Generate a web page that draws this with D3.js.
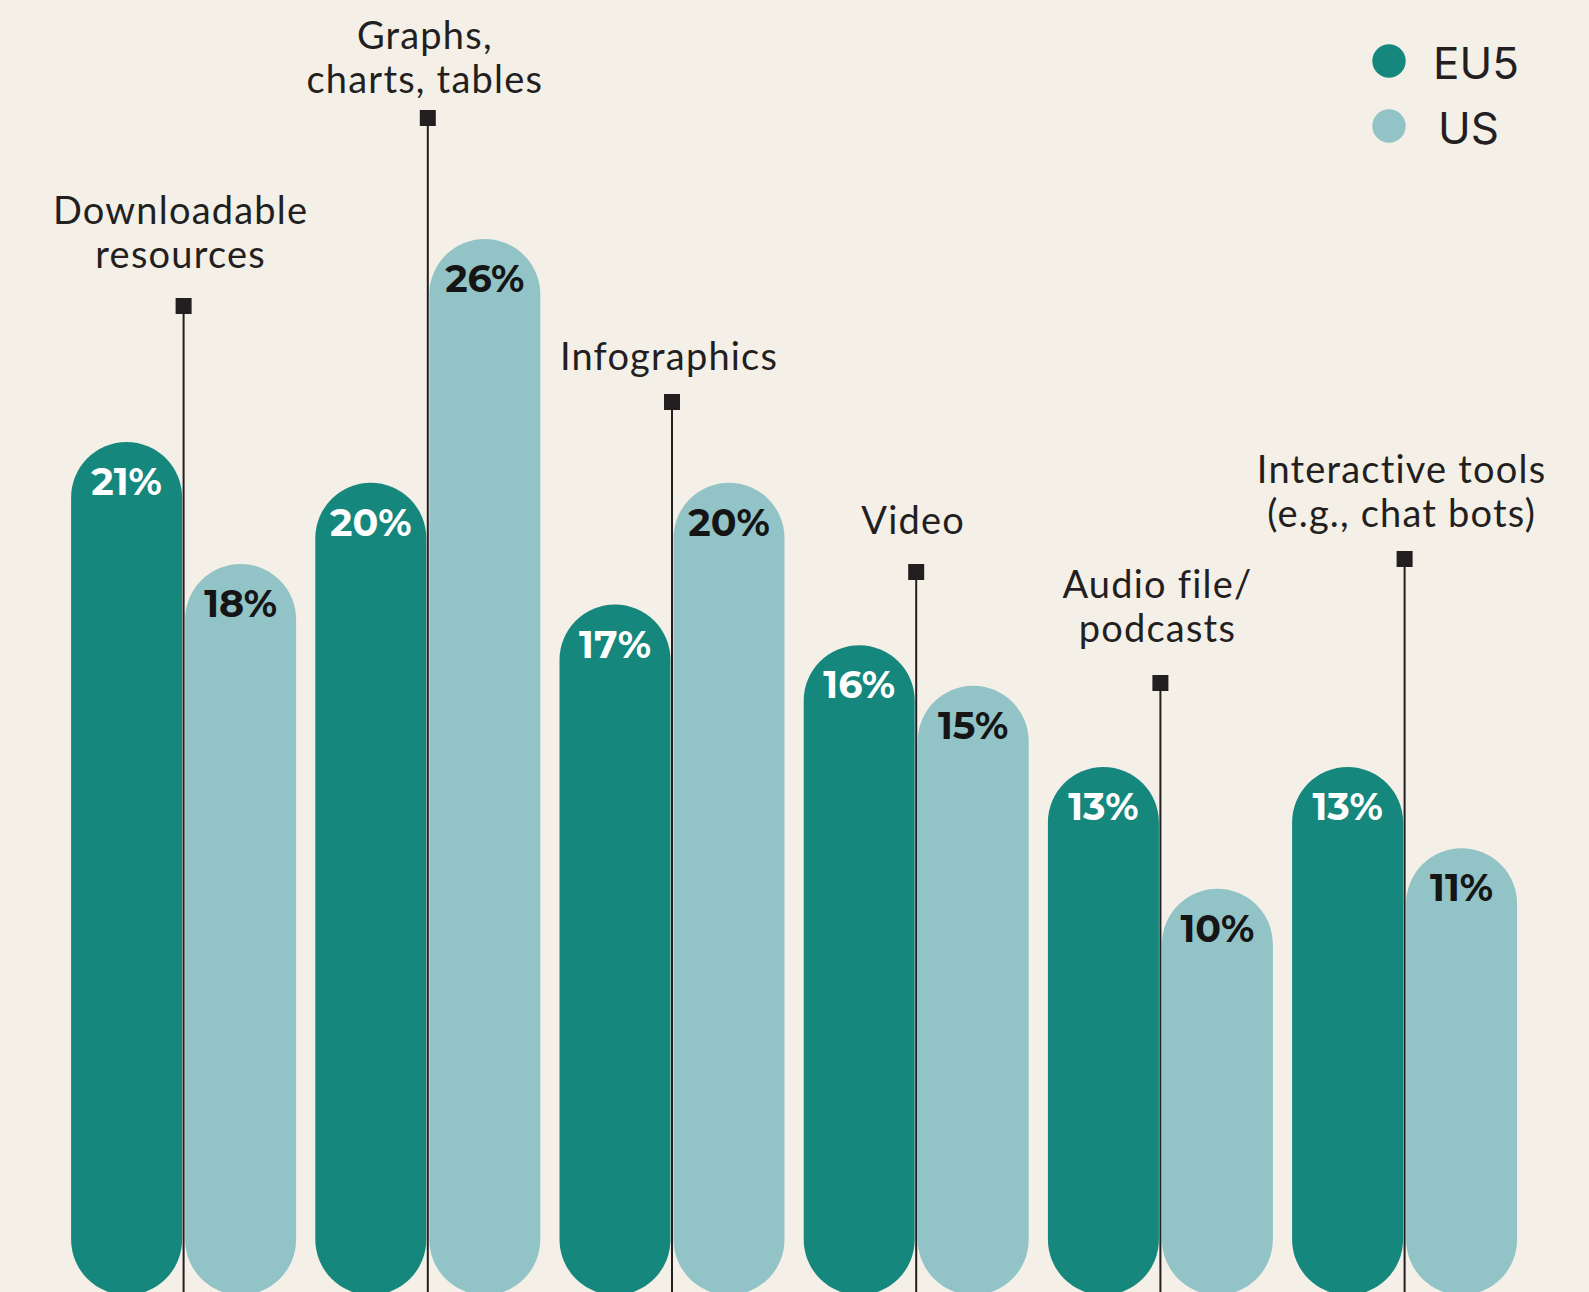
<!DOCTYPE html>
<html>
<head>
<meta charset="utf-8">
<script src="https://cdn.jsdelivr.net/npm/d3@7"></script>
<style>
  html, body { margin: 0; padding: 0; background: #f4f0e8; }
  svg { display: block; }
</style>
</head>
<body>
<svg id="chart" width="1589" height="1292"></svg>
<script>
// Share of respondents preferring each content format
const categories = [
  "Downloadable\nresources",
  "Graphs,\ncharts, tables",
  "Infographics",
  "Video",
  "Audio file/\npodcasts",
  "Interactive tools\n(e.g., chat bots)"
];
const seriesNames = ["EU5", "US"];
const eu5Values = [21, 20, 17, 16, 13, 13];
const usValues  = [18, 26, 20, 15, 10, 11];

// Layout: top of each category's marker stem and baseline of its last label line
const stemTop = [306, 118, 402, 572, 683, 559];
const labelBaseline = [268, 93, 370, 534, 642, 527];

const colors = { EU5: "#16877d", US: "#92c3c6" };
const ink = "#231f20";

const W = 1589, H = 1292;
const svg = d3.select("#chart");
svg.append("rect").attr("width", W).attr("height", H).attr("fill", "#f4f0e8");

const x = d3.scalePoint().domain(categories).range([183.6, 1404.6]);
const xSub = d3.scaleBand().domain(seriesNames).range([-112.5, 112.5]).paddingInner(3 / 114);
const y = d3.scaleLinear().domain([0, 26]).range([1295, 239]);

const rows = categories.map((c, i) => ({
  cat: c,
  values: [
    { key: "EU5", value: eu5Values[i] },
    { key: "US", value: usValues[i] }
  ]
}));

const bw = xSub.bandwidth();

const groups = svg.selectAll("g.cat").data(rows).join("g")
  .attr("class", "cat")
  .attr("transform", d => `translate(${x(d.cat)},0)`);

// Pill-shaped bars
groups.selectAll("rect.bar").data(d => d.values).join("rect")
  .attr("class", "bar")
  .attr("x", d => xSub(d.key))
  .attr("y", d => y(d.value))
  .attr("width", bw)
  .attr("height", d => y(0) - y(d.value))
  .attr("rx", bw / 2)
  .attr("fill", d => colors[d.key]);

// Value labels
groups.selectAll("text.val").data(d => d.values).join("text")
  .attr("class", "val")
  .attr("x", d => xSub(d.key) + bw / 2)
  .attr("y", d => y(d.value) + 53)
  .attr("text-anchor", "middle")
  .attr("font-family", "Montserrat, Inter, 'Noto Sans', sans-serif")
  .attr("font-weight", 700)
  .attr("font-size", 38)
  .attr("fill", d => d.key === "EU5" ? "#ffffff" : "#151515")
  .text(d => d.value + "%");

// Marker stems
groups.append("line")
  .attr("x1", 0).attr("x2", 0)
  .attr("y1", (d, i) => stemTop[i])
  .attr("y2", H)
  .attr("stroke", ink)
  .attr("stroke-width", 2);

groups.append("rect")
  .attr("x", -8).attr("width", 16)
  .attr("y", (d, i) => stemTop[i] - 8).attr("height", 16)
  .attr("fill", ink);

// Category labels
groups.each(function(d, i) {
  const lines = d.cat.split("\n");
  const t = d3.select(this).append("text")
    .attr("text-anchor", "middle")
    .attr("font-family", "Lato, 'Noto Sans', sans-serif")
    .attr("font-size", 38)
    .attr("letter-spacing", 1.2)
    .attr("fill", ink);
  lines.forEach((ln, k) => {
    t.append("tspan")
      .attr("x", -3)
      .attr("y", labelBaseline[i] - (lines.length - 1 - k) * 44)
      .text(ln);
  });
});

// Legend
const legend = svg.append("g").attr("transform", "translate(1389,0)");
const ly = [61, 126];
seriesNames.forEach((s, i) => {
  legend.append("circle").attr("cx", 0).attr("cy", ly[i]).attr("r", 16.7).attr("fill", colors[s]);
  legend.append("text")
    .attr("x", i === 0 ? 44 : 49)
    .attr("y", ly[i] + 18)
    .attr("font-family", "Inter, 'Liberation Sans', sans-serif")
    .attr("font-size", 44)
    .attr("fill", ink)
    .text(s);
});
</script>
</body>
</html>
